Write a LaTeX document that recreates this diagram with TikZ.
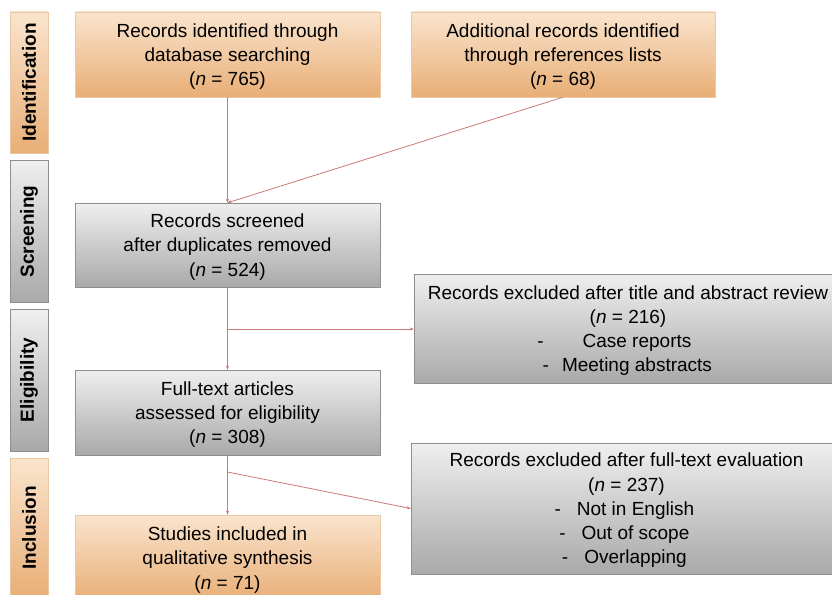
\documentclass[tikz,border=0pt]{standalone}
\usepackage{fontspec}
\setmainfont{Liberation Sans}
\usetikzlibrary{arrows.meta,shapes}
\definecolor{peachtop}{HTML}{FAE4CD}
\definecolor{peachbot}{HTML}{E8AE76}
\definecolor{peachline}{HTML}{EBC8A4}
\definecolor{greytop}{HTML}{EFEFEF}
\definecolor{greybot}{HTML}{A9A9A9}
\definecolor{greyline}{HTML}{8E8E8E}
\definecolor{linkred}{HTML}{C97A77}
\tikzstyle{link} = [draw, linkred, line width=0.8pt, -{Stealth[length=4pt,width=3pt]}]
\newcommand{\itm}[2]{\hspace*{18pt}\llap{-\hspace{#1pt}}#2}
\tikzset{
  box/.style = {rectangle, align=center, inner sep=0pt, text depth=0pt, font=\fontsize{19}{24.2}\selectfont},
  obox/.style = {box, draw=peachline, top color=peachtop, bottom color=peachbot},% boites orange
  gbox/.style = {box, draw=greyline, top color=greytop, bottom color=greybot},% boites grises
  stage/.style = {rectangle, rotate=90, inner sep=0pt, minimum height=38, font=\fontsize{19}{23}\selectfont\bfseries},
  ostage/.style = {stage, draw=peachline, top color=peachtop, bottom color=peachbot},
  gstage/.style = {stage, draw=greyline, top color=greytop, bottom color=greybot},
}

\begin{document}
\begin{tikzpicture}[x=1pt,y=-1pt]
                    \clip (0,0) rectangle (832,594);

                    \node[ostage, minimum width=141] (ident) at (29,82.5) {Identification};
                    \node[gstage, minimum width=142] (screen) at (29,231.5) {Screening};
                    \node[gstage, minimum width=142] (elig) at (29,380) {Eligibility};
                    \node[ostage, minimum width=140] (inclu) at (29,528) {Inclusion};

                    \node[obox, minimum width=305, minimum height=85] (rec) at (227.5,54.5)
                        {Records identified through\\database searching\\(\textit{n} = 765)};
                    \node[obox, minimum width=304, minimum height=85] (add) at (563,54.5)
                        {Additional records identified\\through references lists\\(\textit{n} = 68)};
                    \node[gbox, minimum width=305, minimum height=84] (scr) at (227.5,245)
                        {Records screened\\after duplicates removed\\(\textit{n} = 524)};
                    \node[gbox, minimum width=428, minimum height=109] (excla) at (628,328.5)
                        {Records excluded after title and abstract review\\(\textit{n} = 216)\\
                         \itm{39}{Case reports}\\\itm{13}{Meeting abstracts}};
                    \node[gbox, minimum width=305, minimum height=85] (full) at (227.5,412.5)
                        {Full-text articles\\assessed for eligibility\\(\textit{n} = 308)};
                    \node[gbox, minimum width=431, minimum height=131] (exclb) at (626.5,508.5)
                        {Records excluded after full-text evaluation\\(\textit{n} = 237)\\
                         \itm{16}{Not in English}\\\itm{16}{Out of scope}\\\itm{16}{Overlapping}};
                    \node[obox, minimum width=305, minimum height=86] (incl) at (227.5,558)
                        {Studies included in\\qualitative synthesis\\(\textit{n} = 71)};

                    \coordinate (b1) at (227.5,329);
                    \coordinate (b2) at (227.5,472);

                    \path[link] (rec) -- (scr);
                    \path[link] (add.south) -- (scr.north);
                    \path[link] (scr) -- (full);
                    \path[link] (b1) -- (b1 -| excla.west);
                    \path[link] (full) -- (incl);
                    \path[link] (b2) -- (exclb.west);
                \end{tikzpicture}
\end{document}
